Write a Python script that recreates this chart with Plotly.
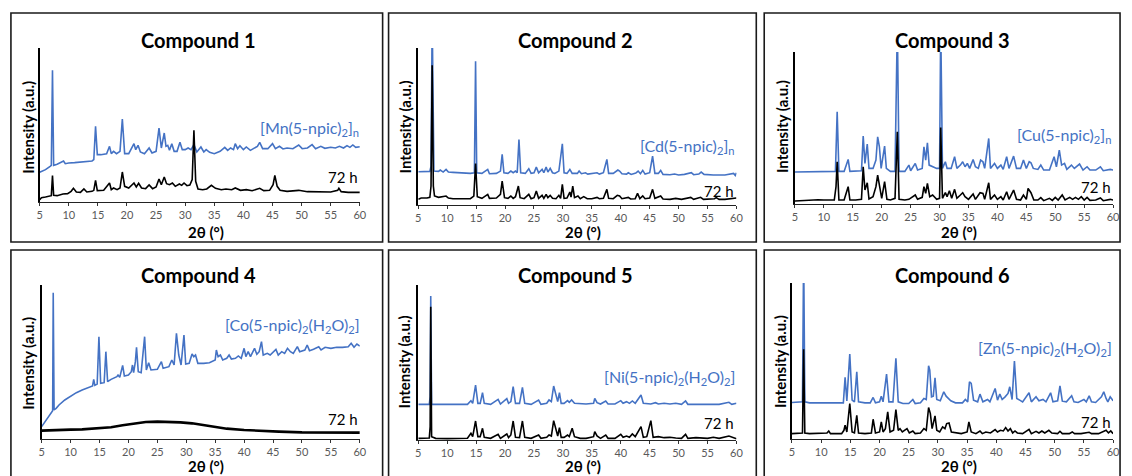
import plotly.graph_objects as go

# ---------------- data (2theta in degrees, intensity in a.u.) ----------------
titles = ["Compound 1", "Compound 2", "Compound 3", "Compound 4", "Compound 5", "Compound 6"]
ref_labels = [
    "[Mn(5-npic)<sub>2</sub>]<sub>n</sub>",
    "[Cd(5-npic)<sub>2</sub>]<sub>n</sub>",
    "[Cu(5-npic)<sub>2</sub>]<sub>n</sub>",
    "[Co(5-npic)<sub>2</sub>(H<sub>2</sub>O)<sub>2</sub>]",
    "[Ni(5-npic)<sub>2</sub>(H<sub>2</sub>O)<sub>2</sub>]",
    "[Zn(5-npic)<sub>2</sub>(H<sub>2</sub>O)<sub>2</sub>]",
]
time_label = "72 h"
x_ticks = [5, 10, 15, 20, 25, 30, 35, 40, 45, 50, 55, 60]
y_max = [462, 472, 457, 462, 465, 466]

c1_ref = [(5, 89), (6, 97), (6.8, 107), (7.0, 110), (7.2, 395), (7.4, 110), (8, 113), (8.8, 120), (9.1, 123),
          (9.4, 115), (10, 117), (11, 118), (12, 120), (13, 121), (14, 123), (14.3, 127), (14.6, 227), (14.9, 142),
          (15.5, 142), (16.5, 145), (17.0, 167), (17.3, 145), (17.7, 152), (18.2, 145), (18.8, 152), (19.2, 249),
          (19.6, 145), (20.3, 145), (21.2, 175), (21.5, 157), (21.9, 170), (22.3, 150), (23, 145), (23.8, 162),
          (24.3, 147), (25, 152), (25.5, 222), (25.9, 162), (26.4, 207), (26.7, 167), (27.0, 170), (27.3, 155),
          (27.7, 175), (28.1, 152), (28.6, 152), (29.1, 179), (29.5, 157), (30, 157), (30.5, 162), (31.0, 157),
          (31.5, 172), (32.0, 150), (32.7, 165), (33.2, 150), (33.6, 157), (34.2, 149), (35, 145), (36, 152),
          (36.8, 164), (37.3, 155), (37.8, 162), (38.3, 157), (38.6, 175), (39.0, 160), (39.4, 169), (40, 157),
          (40.5, 165), (41.2, 155), (41.8, 162), (42.4, 167), (42.8, 179), (43.3, 160), (44.2, 160), (45.0, 175),
          (45.5, 160), (46.2, 167), (46.8, 159), (47.5, 162), (48.5, 160), (49.5, 171), (50.1, 160), (51, 162),
          (51.8, 172), (52.4, 160), (53.3, 167), (54, 161), (55, 164), (55.8, 162), (56.5, 167), (57.2, 162),
          (57.8, 169), (58.3, 164), (58.8, 171), (59.3, 164), (60, 166)]
c1_72h = [(5, 7), (5.3, 13), (6, 15), (6.8, 17), (7.0, 19), (7.2, 79), (7.4, 20), (8, 19), (9, 24), (9.8, 25),
          (10.4, 32), (10.8, 41), (11.3, 30), (12, 29), (12.6, 39), (13.1, 30), (14, 32), (14.3, 35), (14.6, 65),
          (14.9, 34), (16, 35), (17.0, 57), (17.3, 37), (17.7, 42), (18.3, 37), (18.8, 42), (19.2, 90), (19.6, 47),
          (20.3, 42), (21.2, 57), (21.6, 45), (22.0, 56), (22.5, 42), (23.2, 40), (23.8, 51), (24.4, 40), (25, 45),
          (25.5, 69), (25.9, 52), (26.4, 75), (26.8, 55), (27.3, 52), (27.8, 57), (28.3, 47), (29.0, 54), (29.4, 50),
          (29.8, 57), (30.3, 49), (30.8, 51), (31.2, 67), (31.5, 215), (31.8, 62), (32.2, 39), (33, 37), (33.7, 39),
          (34.5, 50), (35.2, 41), (36.2, 37), (37, 39), (38, 37), (38.6, 42), (39.5, 35), (40.5, 37), (41.5, 34),
          (42.8, 41), (43.5, 34), (44.5, 35), (45.1, 52), (45.4, 80), (45.8, 47), (46.3, 35), (47.5, 32), (49.5, 35),
          (51, 31), (53, 31), (55, 30), (56.2, 35), (56.4, 41), (56.8, 31), (58, 29), (60, 29)]

c2_ref = [(5, 100), (6, 100), (7.0, 101), (7.2, 117), (7.4, 560), (7.7, 102), (8.5, 101), (8.8, 105), (9.3, 99),
          (9.8, 107), (10.2, 99), (11, 98), (12, 97), (13, 96), (14, 95), (14.7, 97), (14.9, 432), (15.1, 97),
          (16, 95), (17.0, 107), (17.3, 94), (18.5, 95), (19.2, 102), (19.5, 152), (19.8, 97), (20.5, 95),
          (21.0, 102), (21.4, 97), (21.8, 102), (22.1, 97), (22.4, 197), (22.7, 97), (23.5, 95), (24.1, 109),
          (24.5, 95), (25, 97), (25.4, 114), (25.8, 97), (26.4, 107), (26.7, 97), (27.1, 114), (27.4, 99),
          (27.8, 110), (28.2, 97), (28.6, 95), (29.3, 102), (29.9, 184), (30.2, 97), (30.7, 95), (31.2, 107),
          (31.6, 95), (32.5, 95), (32.8, 102), (33.2, 94), (33.9, 97), (34.3, 93), (35, 95), (35.9, 97), (36.3, 93),
          (37, 97), (37.6, 137), (37.9, 95), (38.7, 95), (39.5, 105), (39.8, 102), (40.2, 94), (41, 93), (41.3, 97),
          (41.8, 92), (42.6, 96), (43.0, 102), (43.4, 94), (43.8, 104), (44.2, 93), (45.0, 97), (45.5, 147),
          (45.9, 95), (46.5, 95), (46.9, 104), (47.3, 92), (48.5, 91), (49.3, 93), (50, 90), (51, 92), (52.2, 97),
          (52.6, 91), (53.5, 93), (53.9, 99), (54.4, 92), (55, 91), (56, 90), (57, 90), (58, 90), (59.5, 95),
          (59.8, 89), (60, 97)]
c2_72h = [(5, 17), (5.5, 21), (6.5, 21), (7.0, 23), (7.2, 57), (7.4, 420), (7.6, 57), (7.8, 27), (8.5, 23), (9, 25),
          (9.8, 27), (10.2, 21), (11, 19), (12, 19), (13, 19), (14, 19), (14.6, 27), (14.9, 125), (15.2, 25),
          (16, 20), (17.0, 32), (17.3, 20), (18.5, 21), (19.2, 32), (19.5, 72), (19.9, 22), (20.5, 20), (21.0, 27),
          (21.4, 20), (21.8, 25), (22.3, 57), (22.6, 22), (23.3, 19), (24.1, 32), (24.5, 19), (25.0, 22), (25.4, 42),
          (25.8, 20), (26.4, 29), (26.7, 20), (27.1, 32), (27.4, 22), (27.8, 29), (28.2, 20), (28.8, 19), (29.3, 29),
          (29.6, 20), (29.9, 62), (30.2, 20), (30.7, 21), (31.2, 39), (31.4, 24), (31.7, 57), (32.0, 22), (32.6, 27),
          (33.0, 19), (33.6, 25), (34.2, 19), (35, 19), (35.9, 23), (36.3, 19), (37.0, 20), (37.6, 47), (37.9, 20),
          (38.7, 19), (39.4, 29), (39.8, 27), (40.2, 19), (41.3, 23), (41.7, 18), (42.5, 19), (42.9, 35), (43.3, 19),
          (43.8, 27), (44.2, 19), (45.0, 21), (45.5, 47), (45.9, 20), (46.9, 27), (47.3, 18), (48.5, 17), (49.5, 20),
          (50.5, 17), (52.1, 23), (52.6, 17), (53.8, 23), (54.3, 17), (55, 18), (56.2, 19), (56.5, 22), (57, 17),
          (58, 17), (59.5, 20), (60, 21)]

c3_ref = [(5, 96), (7, 96), (9, 97), (11, 97), (12.0, 98), (12.3, 277), (12.6, 98), (13.5, 98), (14.2, 134),
          (14.5, 98), (15.5, 99), (16.5, 100), (16.8, 204), (17.1, 122), (17.5, 180), (17.8, 107), (18.5, 107),
          (19.0, 132), (19.3, 202), (19.6, 172), (19.9, 107), (20.5, 174), (20.8, 107), (21.5, 98), (22.3, 98),
          (22.7, 540), (23.0, 98), (24.0, 98), (24.7, 117), (25.0, 100), (25.8, 122), (26.2, 102), (27, 107),
          (27.3, 172), (27.6, 132), (27.9, 184), (28.2, 117), (28.8, 112), (29.5, 107), (30.0, 107), (30.2, 540),
          (30.5, 107), (31.0, 127), (31.3, 107), (32.0, 107), (32.6, 142), (33.0, 107), (33.6, 117), (34.0, 127),
          (34.4, 112), (34.8, 122), (35.2, 107), (35.8, 134), (36.2, 112), (36.7, 107), (37.1, 132), (37.5, 127),
          (37.8, 107), (38.5, 197), (38.8, 107), (39.5, 122), (40.0, 107), (40.6, 117), (41.0, 104), (41.6, 142),
          (42.0, 107), (42.8, 144), (43.3, 107), (44.0, 107), (44.5, 132), (45.0, 107), (45.5, 127), (45.8, 124),
          (46.2, 107), (47.0, 104), (47.5, 117), (48.0, 102), (49.0, 102), (49.8, 142), (50.2, 112), (50.7, 162),
          (51.1, 117), (51.6, 122), (52.0, 104), (52.8, 117), (53.3, 107), (54.2, 120), (54.8, 102), (55.5, 112),
          (56, 102), (57, 102), (57.8, 112), (58.3, 100), (59.5, 104), (60, 102)]
c3_72h = [(5, 9), (6, 10), (7, 12), (8, 14), (9, 13), (10, 12), (11, 11), (11.8, 12), (12.1, 52), (12.3, 127),
          (12.6, 12), (13.5, 12), (14.2, 52), (14.5, 12), (15.5, 12), (16.5, 14), (16.8, 112), (17.1, 42), (17.5, 64),
          (17.8, 15), (18.5, 22), (19.0, 52), (19.3, 87), (19.6, 57), (20.0, 17), (20.5, 67), (20.9, 14), (21.5, 12),
          (22.3, 17), (22.7, 217), (23.0, 14), (24, 12), (24.7, 14), (25.8, 27), (26.2, 14), (27.0, 20), (27.3, 52),
          (27.6, 32), (27.9, 62), (28.3, 22), (28.8, 27), (29.5, 14), (30.0, 17), (30.2, 230), (30.5, 17), (31.0, 34),
          (31.3, 22), (31.7, 40), (32.1, 17), (32.6, 44), (33.0, 17), (33.6, 27), (34.0, 34), (34.4, 22), (35.0, 14),
          (35.8, 30), (36.2, 14), (37.0, 34), (37.5, 32), (37.8, 14), (38.5, 64), (38.8, 14), (39.5, 27), (40.0, 14),
          (40.6, 22), (41.0, 12), (41.6, 37), (42.0, 14), (42.8, 42), (43.3, 14), (44.0, 12), (44.5, 27), (45.0, 14),
          (45.3, 47), (45.8, 34), (46.3, 12), (47.0, 12), (47.5, 19), (48, 10), (49, 17), (49.5, 11), (50, 20),
          (50.5, 12), (51.2, 27), (51.7, 12), (52.5, 20), (53, 14), (53.5, 20), (54, 14), (54.5, 22), (55, 12),
          (55.5, 20), (56, 11), (57, 12), (57.8, 18), (58.3, 10), (59.5, 14), (60, 12)]

c4_ref = [(5, 37), (5.5, 49), (6, 62), (6.5, 75), (6.9, 85), (7.0, 439), (7.15, 87), (7.5, 92), (8, 102), (9, 117),
          (10, 129), (11, 139), (12, 147), (13, 154), (13.8, 159), (14.0, 179), (14.2, 161), (14.6, 165), (14.9, 307),
          (15.2, 167), (15.8, 169), (16.1, 262), (16.4, 172), (17, 179), (18, 187), (18.2, 192), (18.5, 185),
          (19.0, 221), (19.3, 189), (20, 192), (20.5, 202), (20.7, 222), (20.9, 199), (21.2, 232), (21.4, 275),
          (21.7, 202), (22.2, 199), (22.8, 307), (23.1, 207), (23.5, 229), (23.9, 207), (25, 209), (25.7, 232),
          (26.0, 212), (27, 217), (27.5, 237), (27.9, 222), (28.3, 317), (28.7, 252), (29.1, 222), (29.6, 312),
          (29.9, 225), (30.5, 227), (31.0, 255), (31.3, 247), (31.6, 252), (32.0, 227), (33, 227), (34, 229),
          (35.0, 237), (35.2, 267), (35.5, 247), (35.9, 252), (36.3, 237), (37.0, 242), (37.4, 252), (37.8, 240),
          (38.5, 242), (39.0, 249), (39.5, 242), (40.0, 272), (40.3, 247), (40.7, 262), (41.1, 247), (41.8, 272),
          (42.2, 254), (42.6, 262), (43.0, 292), (43.3, 252), (44, 257), (44.5, 252), (45.5, 269), (45.9, 252),
          (46.5, 262), (47.0, 257), (47.5, 272), (48, 262), (48.5, 257), (49.2, 277), (49.6, 262), (50.5, 267),
          (50.9, 282), (51.3, 265), (52, 269), (52.9, 277), (53.3, 267), (54, 275), (55, 272), (56, 275), (57, 275),
          (58, 277), (58.5, 287), (59, 275), (59.5, 285), (60, 279)]
c4_72h = [(5, 25), (7, 27), (10, 28), (12, 29), (15, 32), (17, 35), (19, 41), (21, 47), (23, 51), (25, 52), (27, 52),
          (29, 50), (31, 47), (33, 41), (35, 35), (37, 31), (40, 27), (43, 24), (46, 22), (50, 20), (55, 19), (60, 19)]

c5_ref = [(5, 107), (6, 107), (6.9, 107), (7.05, 130), (7.15, 432), (7.3, 107), (8, 107), (10, 107), (12, 107),
          (13.5, 107), (14.1, 118), (14.4, 110), (14.9, 165), (15.3, 110), (15.7, 110), (16.1, 142), (16.4, 110),
          (17.5, 107), (18.8, 122), (19.2, 108), (20.3, 124), (20.6, 110), (21.0, 115), (21.4, 160), (21.8, 110),
          (22.5, 110), (23.0, 158), (23.4, 110), (24.5, 107), (25.8, 120), (26.2, 107), (27.2, 110), (27.6, 120),
          (28.0, 115), (28.4, 162), (28.8, 130), (29.1, 115), (29.4, 142), (29.7, 110), (30.2, 110), (30.8, 118),
          (31.1, 113), (31.5, 120), (32, 110), (33, 108), (34, 108), (35.3, 110), (35.5, 125), (35.9, 112),
          (36.5, 108), (37.4, 117), (37.8, 108), (39, 108), (40.0, 118), (40.4, 110), (41.0, 115), (41.5, 110),
          (42.0, 117), (42.5, 110), (43.5, 135), (43.9, 110), (44.5, 110), (45.2, 108), (46, 112), (46.5, 108),
          (47.5, 110), (48.5, 108), (49.5, 110), (50.5, 107), (51.2, 117), (51.6, 107), (53, 107), (55, 107),
          (57, 107), (58.7, 113), (59.2, 107), (60, 110)]
c5_72h = [(5, 5), (6, 5), (6.9, 6), (7.05, 40), (7.15, 400), (7.3, 10), (8, 5), (10, 4), (12, 4), (13.5, 5),
          (14.1, 20), (14.4, 10), (14.9, 57), (15.3, 10), (15.7, 10), (16.1, 35), (16.4, 8), (17.5, 5), (18.8, 17),
          (19.2, 5), (20.3, 18), (20.6, 7), (21.0, 15), (21.4, 57), (21.8, 8), (22.5, 7), (23.0, 57), (23.4, 8),
          (24.5, 5), (25.8, 15), (26.2, 5), (27.2, 8), (27.6, 15), (28.0, 12), (28.4, 58), (28.8, 32), (29.1, 12),
          (29.4, 37), (29.7, 8), (30.2, 8), (30.8, 15), (31.1, 10), (31.6, 35), (32, 10), (33, 5), (34, 5), (35.3, 10),
          (35.5, 25), (35.9, 12), (36.5, 5), (37.4, 15), (37.8, 5), (39, 5), (40.0, 17), (40.4, 8), (41.0, 12),
          (41.5, 8), (42.0, 18), (42.5, 10), (43.5, 40), (43.9, 8), (44.5, 10), (45.2, 58), (45.6, 8), (46.5, 10),
          (47.5, 7), (48.5, 8), (49.5, 6), (50.5, 5), (51.2, 17), (51.6, 5), (53, 7), (55, 5), (56, 8), (57, 5),
          (58.7, 12), (59.2, 8), (60, 4)]

c6_ref = [(5, 109), (6, 109), (6.8, 111), (7.0, 560), (7.2, 111), (8, 108), (9, 108), (10, 106), (11, 106), (12, 106),
          (13, 106), (13.8, 108), (14.1, 184), (14.4, 114), (14.9, 254), (15.3, 116), (15.7, 111), (16.1, 201),
          (16.4, 111), (17.5, 108), (18.4, 108), (18.9, 124), (19.3, 108), (20.0, 111), (20.3, 128), (20.6, 111),
          (21.2, 194), (21.6, 111), (22.3, 111), (22.8, 241), (23.2, 111), (24, 106), (25.0, 106), (25.7, 118),
          (26.1, 106), (27, 108), (27.6, 121), (28.0, 118), (28.4, 219), (28.6, 206), (28.9, 126), (29.2, 128),
          (29.5, 183), (29.8, 118), (30.4, 114), (31.0, 141), (31.4, 128), (31.8, 121), (32.2, 114), (33, 108),
          (34.2, 108), (34.7, 118), (35.1, 111), (35.4, 171), (35.7, 166), (36.1, 116), (36.8, 111), (37.2, 134),
          (37.7, 111), (38.5, 118), (38.9, 111), (39.8, 151), (40.2, 116), (40.6, 134), (41.0, 118), (41.5, 126),
          (42.0, 136), (42.3, 156), (42.7, 118), (43.1, 233), (43.5, 121), (44, 116), (44.5, 111), (45.6, 138),
          (46.0, 111), (46.8, 126), (47.3, 114), (48.0, 118), (48.5, 111), (49.3, 138), (49.7, 111), (50.5, 114),
          (50.9, 159), (51.3, 113), (52, 111), (52.9, 129), (53.3, 111), (54, 109), (55, 118), (55.4, 111),
          (55.9, 129), (56.3, 111), (57, 109), (58.0, 126), (58.4, 141), (58.8, 121), (59.1, 111), (59.5, 126),
          (60, 114)]
c6_72h = [(5, 16), (6, 16), (6.8, 18), (7.0, 268), (7.2, 18), (8, 16), (9, 16), (10, 16), (11, 18), (11.3, 24),
          (11.6, 16), (12.5, 16), (13.5, 16), (13.9, 26), (14.1, 41), (14.4, 21), (14.9, 106), (15.3, 21), (15.7, 18),
          (16.1, 71), (16.4, 18), (17.5, 16), (18.6, 18), (18.9, 59), (19.3, 18), (20.0, 21), (20.3, 51), (20.6, 21),
          (21.0, 31), (21.4, 81), (21.8, 21), (22.4, 26), (22.8, 88), (23.2, 26), (23.5, 31), (23.9, 21), (24.7, 31),
          (25.1, 18), (25.7, 24), (26.1, 16), (27, 18), (27.6, 31), (28.0, 26), (28.4, 94), (28.7, 76), (29.0, 31),
          (29.5, 69), (29.8, 26), (30.3, 21), (30.8, 36), (31.2, 31), (31.5, 46), (31.9, 48), (32.3, 21), (33, 18),
          (34, 16), (35.0, 21), (35.3, 51), (35.7, 21), (36.5, 16), (37.2, 24), (37.6, 16), (38.2, 21), (39, 18),
          (39.8, 28), (40.2, 21), (40.7, 26), (41.2, 24), (41.6, 34), (42.0, 24), (42.4, 31), (42.8, 18), (43.2, 24),
          (43.6, 18), (44.5, 16), (45.6, 29), (46.0, 16), (46.8, 23), (47.3, 18), (47.8, 24), (48.3, 18), (49.0, 26),
          (49.5, 18), (50.5, 16), (50.9, 23), (51.3, 16), (52.5, 16), (53, 21), (53.4, 16), (54.5, 16), (55.9, 20),
          (56.3, 16), (57.5, 16), (58.3, 23), (58.8, 26), (59.2, 18), (59.6, 24), (60, 16)]

ref_series = [c1_ref, c2_ref, c3_ref, c4_ref, c5_ref, c6_ref]
aged_series = [c1_72h, c2_72h, c3_72h, c4_72h, c5_72h, c6_72h]

# ---------------- layout (pixels) ----------------
W, H = 1132, 476
BLUE = "#4472C4"
FONT = "Lato"

# plot areas: (left, right, top, bottom) in px
areas = [(37, 360, 48, 202), (419, 740, 48, 205), (799, 1120, 52, 204),
         (39, 360, 285, 439), (419, 740, 285, 440), (796, 1120, 283, 439)]
# panel boxes
boxes = [(8, 383, 13, 242), (389, 760, 13, 242), (768, 1127, 13, 242),
         (8, 383, 250, 490), (389, 760, 250, 490), (768, 1127, 250, 490)]
title_pos = [(197, 40), (577, 40), (957, 40), (197, 275), (577, 275), (957, 275)]
ref_label_pos = [(361, 129), (741, 146), (1121, 135), (362, 325), (741, 377), (1121, 348)]
time_label_pos = [(360, 177), (740, 191), (1120, 187), (360, 419), (740, 423), (1120, 422)]
ylab_pos = [(25, 127), (406, 127), (786, 127), (25, 363), (405, 362), (784, 362)]
xlab_pos = [(205, 232), (585, 232), (965, 232), (205, 466), (585, 466), (965, 466)]


def fx(px):
    return px / W


def fy(py):
    return 1 - py / H


fig = go.Figure()
layout = dict(width=W, height=H, margin=dict(l=0, r=0, t=0, b=0), paper_bgcolor="white",
              plot_bgcolor="white", showlegend=False, font=dict(family=FONT))
annotations = []
shapes = []

for i in range(6):
    k = "" if i == 0 else str(i + 1)
    l, r, t, b = areas[i]
    layout["xaxis" + k] = dict(domain=[fx(l), fx(r)], anchor="y" + k, range=[5, 60], tickvals=x_ticks,
                               ticks="outside", ticklen=3, tickwidth=1, tickcolor="#333",
                               showline=True, linecolor="#222", linewidth=1, showgrid=False, zeroline=False,
                               tickfont=dict(size=11, color="#595959", family=FONT))
    layout["yaxis" + k] = dict(domain=[fy(b), fy(t)], anchor="x" + k, range=[0, y_max[i]],
                               showline=True, linecolor="black", linewidth=1.6, showticklabels=False,
                               ticks="", showgrid=False, zeroline=False)
    rx, ry = zip(*ref_series[i])
    ax_, ay_ = zip(*aged_series[i])
    fig.add_trace(go.Scatter(x=rx, y=ry, mode="lines", line=dict(color=BLUE, width=1.6),
                             xaxis="x" + k, yaxis="y" + k))
    fig.add_trace(go.Scatter(x=ax_, y=ay_, mode="lines", line=dict(color="black", width=2.6 if i == 3 else 1.6),
                             xaxis="x" + k, yaxis="y" + k))

    bx0, bx1, by0, by1 = boxes[i]
    shapes.append(dict(type="rect", xref="paper", yref="paper", x0=fx(bx0), x1=fx(bx1), y0=fy(by1), y1=fy(by0),
                       line=dict(color="#1a1a1a", width=1.6), layer="above"))
    tx, ty = title_pos[i]
    annotations.append(dict(x=fx(tx), y=fy(ty), xref="paper", yref="paper", text="<b>" + titles[i] + "</b>",
                            showarrow=False, xanchor="center", yanchor="middle",
                            font=dict(size=20, color="black", family=FONT)))
    lx, ly = ref_label_pos[i]
    annotations.append(dict(x=fx(lx), y=fy(ly), xref="paper", yref="paper", text=ref_labels[i],
                            showarrow=False, xanchor="right", yanchor="middle",
                            font=dict(size=16, color=BLUE, family=FONT)))
    hx, hy = time_label_pos[i]
    annotations.append(dict(x=fx(hx), y=fy(hy), xref="paper", yref="paper", text=time_label,
                            showarrow=False, xanchor="right", yanchor="middle",
                            font=dict(size=15, color="black", family=FONT)))
    yx, yy = ylab_pos[i]
    annotations.append(dict(x=fx(yx), y=fy(yy), xref="paper", yref="paper", text="<b>Intensity (a.u.)</b>",
                            showarrow=False, textangle=-90, xanchor="center", yanchor="middle",
                            font=dict(size=15, color="black", family=FONT)))
    xx, xy = xlab_pos[i]
    annotations.append(dict(x=fx(xx), y=fy(xy), xref="paper", yref="paper", text="<b>2θ (°)</b>",
                            showarrow=False, xanchor="center", yanchor="middle",
                            font=dict(size=15, color="black", family=FONT)))

layout["annotations"] = annotations
layout["shapes"] = shapes
fig.update_layout(**layout)
fig.write_html("out.html")
